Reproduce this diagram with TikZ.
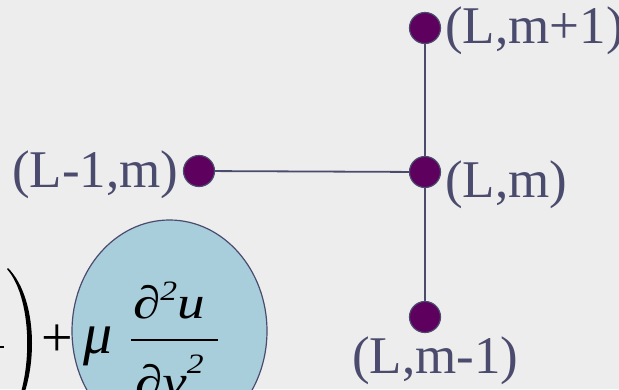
\documentclass[tikz,border=0pt]{standalone}
\usepackage{fontspec}
\usetikzlibrary{shapes.geometric}
\newfontfamily\labfont{Liberation Serif}
\newfontfamily\mathfnt[FakeStretch=1.2]{Liberation Serif}
\definecolor{bgc}{HTML}{EDEDED}
\definecolor{dotfill}{HTML}{5E005E}
\definecolor{slate}{HTML}{4B4B6E}
\definecolor{ellfill}{HTML}{A8CDDB}
\begin{document}
\begin{tikzpicture}[x=1pt,y=-1pt,
  dot/.style={circle,fill=dotfill,draw=slate,line width=1.2pt,minimum size=31pt,inner sep=0pt},
  lab/.style={anchor=base west,inner sep=0pt,text=slate,font=\labfont\fontsize{53}{53}\selectfont},
  link/.style={draw=slate,line width=1.8pt},
  mtxt/.style={anchor=base west,inner sep=0pt,text=black,font=\mathfnt\itshape\fontsize{46}{46}\selectfont}]
\useasboundingbox (0,0) rectangle (619,389);
\clip (0,0) rectangle (619,389);
\fill[bgc] (0,0) rectangle (619,389);
% dots
\node[dot] (top) at (425,28) {};
\node[dot] (mid) at (425,172) {};
\node[dot] (left) at (199,171) {};
\node[dot] (bot) at (425,317) {};
\path[link] (top) -- (mid);
\path[link] (mid) -- (bot);
\path[link] (left) -- (mid);
% labels
\node[lab] (ltop) at (445,43) {(L,m+1)};
\node[lab] (lmid) at (445,197) {(L,m)};
\node[lab] (lleft) at (12,187) {(L-1,m)};
\node[lab] (lbot) at (352,373) {(L,m-1)};
% equation fragment
\fill[black] (8,268) .. controls (40,300) and (40,385) .. (8,425)
  -- (7,424) .. controls (34,385) and (34,300) .. (7,269) -- cycle;
\draw[black,line width=1.6pt] (0,347) -- (4,347);
\node[inner sep=0pt,text=black,font=\labfont\fontsize{56}{56}\selectfont] (plus) at (57,341) {+};
\node[ellipse,draw=slate,fill=ellfill,line width=1.2pt,minimum width=195pt,minimum height=222pt] (ell) at (169.5,331) {};
\node[mtxt,font=\labfont\itshape\fontsize{58}{58}\selectfont] (mu) at (83,353) {μ};
\node[mtxt] (num) at (133,318) {∂\raisebox{18pt}{\fontsize{28}{28}\selectfont 2}u};
\draw[black,line width=1.6pt] (131,340) -- (218,340);
\node[mtxt] (den) at (135,397) {∂y\raisebox{24pt}{\fontsize{28}{28}\selectfont 2}};
\end{tikzpicture}
\end{document}
